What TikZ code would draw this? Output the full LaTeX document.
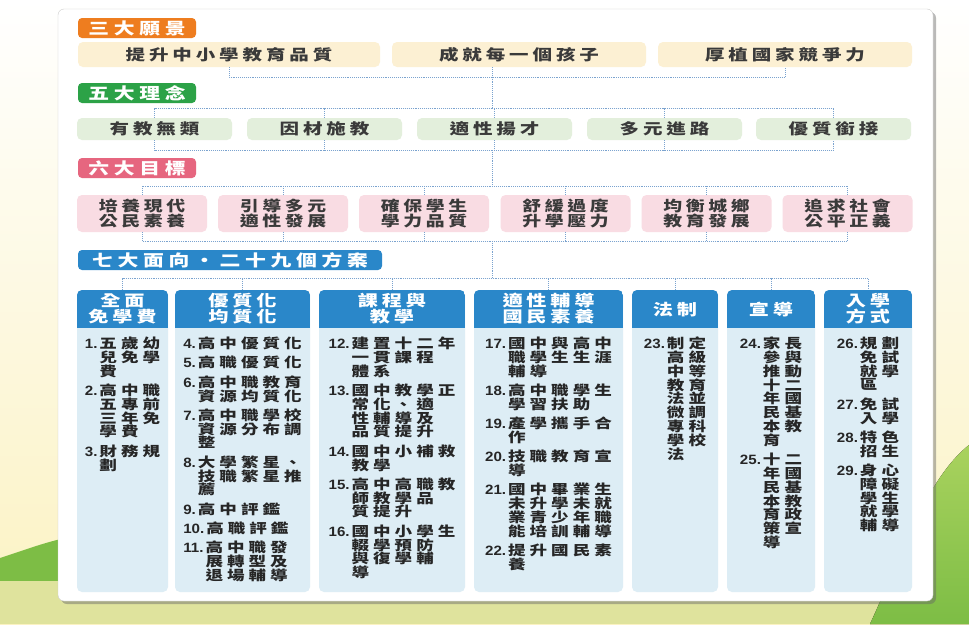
\documentclass[tikz,border=0pt]{standalone}
\usepackage{fontspec}
\newfontfamily\cjk{Noto Sans CJK TC}[FakeStretch=1.3]
\newfontfamily\numf{Liberation Sans}[FakeStretch=1.12]
% gap between two ideographs
\newskip\cjkgap
\newcount\cjkc
\newXeTeXintercharclass\cjkcls
\cjkc="4E00
\loop
	\XeTeXcharclass\cjkc=\cjkcls
	\ifnum\cjkc<"9FFF \advance\cjkc by 1
\repeat
\XeTeXcharclass"3001=\cjkcls
\XeTeXcharclass"30FB=\cjkcls
\XeTeXinterchartokenstate=1
\XeTeXinterchartoks\cjkcls\cjkcls={\hskip\cjkgap}
\usepackage{tikz}
\usetikzlibrary{shadows}

\definecolor{visionhead}{HTML}{EE7D1F}
\definecolor{visionbox}{HTML}{FCF0D3}
\definecolor{ideahead}{HTML}{2CA247}
\definecolor{ideabox}{HTML}{E3EFDC}
\definecolor{goalhead}{HTML}{E6667F}
\definecolor{goalbox}{HTML}{F9DCE3}
\definecolor{planhead}{HTML}{2A87C9}
\definecolor{planbox}{HTML}{DDEDF5}
\definecolor{linkblue}{HTML}{7BA3CF}
\definecolor{rowtext}{HTML}{3A3A3A}
\definecolor{bodytext}{HTML}{262626}
\definecolor{sky}{HTML}{FBF2C2}
\definecolor{hill}{HTML}{7DBD45}
\definecolor{hilltop}{HTML}{A9D25E}
\definecolor{meadow}{HTML}{DFE39D}

% number of a plan
\newcommand{\pno}[1]{{\numf#1}\hspace{2pt}}
% next line of a plan, hung under its number
\newcommand{\sk}[1]{\\\phantom{\pno{#1}}}
% next plan
\newcommand{\nx}{\\[5.5pt]}

\tikzset{
	head/.style={rounded corners=4pt, minimum height=20pt, inner sep=0pt, text=white,
		font={\cjk\bfseries\fontsize{16}{18}\selectfont\cjkgap=4.7pt}},
	box/.style={rounded corners=5pt, inner sep=0pt, text=rowtext, align=center},
	vision/.style={box, fill=visionbox, minimum height=25pt,
		font={\cjk\bfseries\fontsize{15}{17}\selectfont\cjkgap=3.9pt}},
	idea/.style={box, fill=ideabox, minimum width=155pt, minimum height=22pt,
		font={\cjk\bfseries\fontsize{15}{17}\selectfont\cjkgap=3.9pt}},
	goal/.style={box, fill=goalbox, minimum width=130pt, minimum height=37pt,
		font={\cjk\bfseries\fontsize{14.5}{15}\selectfont\cjkgap=3.7pt}},
	column/.style={rounded corners=5pt, fill=planbox, minimum height=302pt, inner sep=0pt,
		path picture={\fill[planhead, sharp corners] (path picture bounding box.north west) rectangle ([yshift=-38pt]path picture bounding box.north east);}},
	colhead/.style={inner sep=0pt, text=white, align=center,
		font={\cjk\bfseries\fontsize{15.5}{16}\selectfont\cjkgap=3.8pt}},
	plans/.style={anchor=north, inner sep=0pt, text=bodytext, align=left,
		font={\cjk\bfseries\fontsize{13.5}{13.8}\selectfont\cjkgap=4pt}},
	link/.style={linkblue, densely dotted, line width=.9pt},
}

\begin{document}
\begin{tikzpicture}[x=1pt,y=-1pt]
% background
	\useasboundingbox (0,0) rectangle (969,624);
	\fill[top color=white, bottom color=sky] (0,0) rectangle (969,624);
	\fill[hill] (0,558) .. controls (25,550) and (45,542) .. (70,537) -- (70,590) -- (0,590) -- cycle;
	\fill[meadow] (0,581) rectangle (969,624);
	\fill[top color=hilltop, bottom color=hill] (870,624) .. controls (900,560) and (925,480) .. (969,445) -- (969,624) -- cycle;
% panel
	\path[fill=white, draw=black!20, rounded corners=6pt,
		drop shadow={shadow xshift=3pt, shadow yshift=-3pt, opacity=.45, fill=black!60}] (58,9) rectangle (933,601);

% three visions
	\node[head, fill=visionhead, minimum width=118pt] (h1) at (137,28) {三大願景};
	\node[vision, minimum width=302pt] (v1) at (229,54.5) {提升中小學教育品質};
	\node[vision, minimum width=254pt] (v2) at (519,54.5) {成就每一個孩子};
	\node[vision, minimum width=254pt] (v3) at (785,54.5) {厚植國家競爭力};

% five ideas
	\node[head, fill=ideahead, minimum width=118pt] (h2) at (137,93) {五大理念};
	\node[idea] (i1) at (154.5,129) {有教無類};
	\node[idea] (i2) at (324.5,129) {因材施教};
	\node[idea] (i3) at (494.5,129) {適性揚才};
	\node[idea] (i4) at (664.5,129) {多元進路};
	\node[idea] (i5) at (833.5,129) {優質銜接};

% six goals
	\node[head, fill=goalhead, minimum width=118pt] (h3) at (137,168) {六大目標};
	\node[goal] (g1) at (142,213.5) {培養現代\\公民素養};
	\node[goal] (g2) at (283,213.5) {引導多元\\適性發展};
	\node[goal] (g3) at (424,213.5) {確保學生\\學力品質};
	\node[goal] (g4) at (565.5,213.5) {舒緩過度\\升學壓力};
	\node[goal] (g5) at (706.5,213.5) {均衡城鄉\\教育發展};
	\node[goal] (g6) at (847.5,213.5) {追求社會\\公平正義};

% seven aspects
	\node[head, fill=planhead, minimum width=304pt] (h4) at (230,260) {七大面向・二十九個方案};
	\node[column, minimum width=91pt] (c1) at (122.5,441) {};
	\node[column, minimum width=135pt] (c2) at (242.5,441) {};
	\node[column, minimum width=146pt] (c3) at (392,441) {};
	\node[column, minimum width=149pt] (c4) at (548.5,441) {};
	\node[column, minimum width=86pt] (c5) at (675,441) {};
	\node[column, minimum width=88pt] (c6) at (771,441) {};
	\node[column, minimum width=88pt] (c7) at (868,441) {};
	\node[colhead] (c1h) at ([yshift=-19pt]c1.north) {全面\\免學費};
	\node[colhead] (c2h) at ([yshift=-19pt]c2.north) {優質化\\均質化};
	\node[colhead] (c3h) at ([yshift=-19pt]c3.north) {課程與\\教學};
	\node[colhead] (c4h) at ([yshift=-19pt]c4.north) {適性輔導\\國民素養};
	\node[colhead] (c5h) at ([yshift=-20pt]c5.north) {法制};
	\node[colhead] (c6h) at ([yshift=-20pt]c6.north) {宣導};
	\node[colhead] (c7h) at ([yshift=-19pt]c7.north) {入學\\方式};

% twenty-nine plans
	\node[plans] (c1t) at ([yshift=-47pt]c1.north)
		{\pno{1.}五歲幼\sk{1.}兒免學\sk{1.}費\nx \pno{2.}高中職\sk{2.}五專前\sk{2.}三年免\sk{2.}學費\nx \pno{3.}財務規\sk{3.}劃};
	\node[plans] (c2t) at ([yshift=-47pt]c2.north)
		{\pno{4.}高中優質化\nx \pno{5.}高職優質化\nx \pno{6.}高中職教育\sk{6.}資源均質化\nx
		 \pno{7.}高中職學校\sk{7.}資源分布調\sk{7.}整\nx \pno{8.}大學繁星、\sk{8.}技職繁星推\sk{8.}薦\nx
		 \pno{9.}高中評鑑\nx \pno{10.}高職評鑑\nx \pno{11.}高中職發\sk{11.}展轉型及\sk{11.}退場輔導};
	\node[plans] (c3t) at ([yshift=-47pt]c3.north)
		{\pno{12.}建置十二年\sk{12.}一貫課程\sk{12.}體系\nx \pno{13.}國中教學正\sk{13.}常化、適\sk{13.}性輔導及\sk{13.}品質提升\nx
		 \pno{14.}國中小補救\sk{14.}教學\nx \pno{15.}高中高職教\sk{15.}師教學品\sk{15.}質提升\nx
		 \pno{16.}國中小學生\sk{16.}輟學預防\sk{16.}與復學輔\sk{16.}導};
	\node[plans] (c4t) at ([yshift=-47pt]c4.north)
		{\pno{17.}國中與高中\sk{17.}職學生生涯\sk{17.}輔導\nx \pno{18.}高中職學生\sk{18.}學習扶助\nx
		 \pno{19.}產學攜手合\sk{19.}作\nx \pno{20.}技職教育宣\sk{20.}導\nx
		 \pno{21.}國中畢業生\sk{21.}未升學未就\sk{21.}業青少年職\sk{21.}能培訓輔導\nx \pno{22.}提升國民素\sk{22.}養};
	\node[plans] (c5t) at ([yshift=-47pt]c5.north)
		{\pno{23.}制定\sk{23.}高級\sk{23.}中等\sk{23.}教育\sk{23.}法並\sk{23.}微調\sk{23.}專科\sk{23.}學校\sk{23.}法};
	\node[plans] (c6t) at ([yshift=-47pt]c6.north)
		{\pno{24.}家長\sk{24.}參與\sk{24.}推動\sk{24.}十二\sk{24.}年國\sk{24.}民基\sk{24.}本教\sk{24.}育\nx
		 \pno{25.}十二\sk{25.}年國\sk{25.}民基\sk{25.}本教\sk{25.}育政\sk{25.}策宣\sk{25.}導};
	\node[plans] (c7t) at ([yshift=-47pt]c7.north)
		{\pno{26.}規劃\sk{26.}免試\sk{26.}就學\sk{26.}區\nx \pno{27.}免試\sk{27.}入學\nx \pno{28.}特色\sk{28.}招生\nx
		 \pno{29.}身心\sk{29.}障礙\sk{29.}學生\sk{29.}就學\sk{29.}輔導};

% dotted links
	\coordinate (j1) at (492,77);
	\coordinate (j2) at (492,108);
	\coordinate (j3) at (492,150);
	\coordinate (j4) at (492,186);
	\coordinate (j5) at (492,241);
	\coordinate (j6) at (492,278);
	\draw[link] (v1.south) |- (j1) -| (v3.south);
	\draw[link] (v2.south -| j1) -- (j2);
	\draw[link] (i1.north) |- (j2) -| (i5.north);
	\draw[link] (i2.north) -- (i2.north |- j2);
	\draw[link] (i3.north) -- (i3.north |- j2);
	\draw[link] (i4.north) -- (i4.north |- j2);
	\draw[link] (i1.south) |- (j3) -| (i5.south);
	\draw[link] (i2.south) -- (i2.south |- j3);
	\draw[link] (i3.south) -- (i3.south |- j3);
	\draw[link] (i4.south) -- (i4.south |- j3);
	\draw[link] (j3) -- (j4);
	\draw[link] (g1.north) |- (j4) -| (g6.north);
	\draw[link] (g2.north) -- (g2.north |- j4);
	\draw[link] (g3.north) -- (g3.north |- j4);
	\draw[link] (g4.north) -- (g4.north |- j4);
	\draw[link] (g5.north) -- (g5.north |- j4);
	\draw[link] (g1.south) |- (j5) -| (g6.south);
	\draw[link] (g2.south) -- (g2.south |- j5);
	\draw[link] (g3.south) -- (g3.south |- j5);
	\draw[link] (g4.south) -- (g4.south |- j5);
	\draw[link] (g5.south) -- (g5.south |- j5);
	\draw[link] (j5) -- (j6);
	\draw[link] (c1.north) |- (j6) -| (c7.north);
	\draw[link] (c2.north) -- (c2.north |- j6);
	\draw[link] (c3.north) -- (c3.north |- j6);
	\draw[link] (c4.north) -- (c4.north |- j6);
	\draw[link] (c5.north) -- (c5.north |- j6);
	\draw[link] (c6.north) -- (c6.north |- j6);
\end{tikzpicture}
\end{document}
